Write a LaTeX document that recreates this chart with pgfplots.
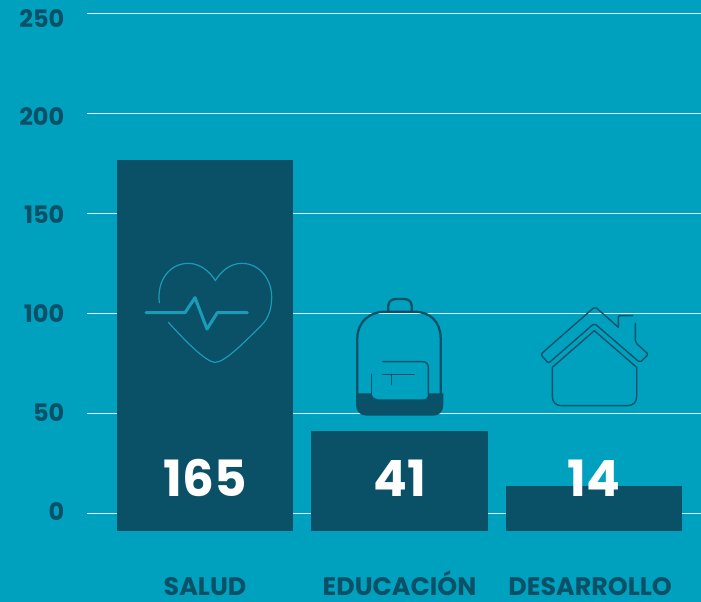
\documentclass[border=0pt]{standalone}
\usepackage{fontspec}
\setmainfont{Poppins}
\usepackage{pgfplots}
\pgfplotsset{compat=1.18}
\definecolor{bg}{HTML}{00A1BF}
\definecolor{barc}{HTML}{0A5066}
\definecolor{iconc}{HTML}{1A9CB9}
\newcommand{\yl}[2]{\raisebox{#1pt}[0pt][0pt]{#2}}
\begin{document}
\begin{tikzpicture}[x=.75pt,y=-.75pt]
\useasboundingbox (0,0) rectangle (701,602);
\fill[bg] (0,0) rectangle (701,602);
\begin{axis}[
  at={(65.25pt,-10.5pt)},anchor=north west,
  scale only axis,width=460.5pt,height=387.75pt,
  xmin=-0.607,xmax=2.550,ymin=-9,ymax=250,
  axis line style={draw=none},
  clip=false,
  xtick={0,1,1.98},
  xticklabels={SALUD,EDUCACIÓN,DESARROLLO},
  ytick={0,50,100,150,200,250},
  yticklabels={\yl{-5.3}{0},\yl{-5.9}{50},\yl{-6.5}{100},\yl{-7.1}{150},\yl{-8.4}{200},\yl{-9.8}{250}},
  major tick length=0pt,
  ymajorgrids,
  grid style={white!85!bg,line width=.75pt},
  every x tick label/.style={font=\bfseries\fontsize{19}{20}\selectfont,text=barc,anchor=base,yshift=-48.5pt,text depth=0pt,inner ysep=0pt},
  every y tick label/.style={font=\bfseries\fontsize{18}{20}\selectfont,text=barc,anchor=east,xshift=-13.5pt},
  ybar,bar width=131.5pt,bar shift=0pt,
]
\addplot[fill=barc,draw=barc,line width=0pt] coordinates {(0,176.4) (1,41) (2,13.5)};
\addplot[fill=barc,draw=barc,line width=0pt] coordinates {(0,-9) (1,-9) (2,-9)};
\node[text=white,font=\bfseries\fontsize{37.5}{38}\selectfont,anchor=center] at (axis cs:0,17.5) {165};
\node[text=white,font=\bfseries\fontsize{37.5}{38}\selectfont,anchor=center] at (axis cs:1,17.5) {41};
\node[text=white,font=\bfseries\fontsize{37.5}{38}\selectfont,anchor=center] at (axis cs:2,17.5) {14};
\end{axis}
% heart icon
\begin{scope}[shift={(110,230)},x=.25pt,y=-.25pt,line cap=round,line join=round]
\draw[iconc,line width=.9pt] (148,218) .. controls (140,150) and (180,100) .. (235,100)
  .. controls (270,100) and (300,125) .. (316,152)
  .. controls (332,125) and (360,100) .. (395,100)
  .. controls (450,100) and (487,150) .. (485,205)
  .. controls (484,240) and (475,265) .. (455,285)
  .. controls (410,330) and (345,397) .. (316,397)
  .. controls (285,397) and (215,320) .. (175,277);
\draw[iconc,line width=2.3pt] (108,248) -- (225,248) -- (255,203) -- (291,297) -- (322,248) -- (412,248);
\end{scope}
% backpack icon
\begin{scope}[shift={(340,285)},x=.25pt,y=-.25pt,line cap=round,line join=round]
\fill[barc] (48,325) -- (95,325) .. controls (95,335) and (103,343) .. (112,343) -- (250,343)
  .. controls (260,343) and (265,335) .. (265,325) -- (310,325) -- (310,360)
  .. controls (310,380) and (297,392) .. (280,392) -- (80,392)
  .. controls (62,392) and (48,380) .. (48,360) -- cycle;
\draw[barc,line width=1.7pt] (52,330) -- (52,160) .. controls (52,110) and (90,80) .. (135,80) -- (222,80)
  .. controls (270,80) and (302,110) .. (302,160) -- (302,330);
\draw[barc,line width=1.7pt] (145,78) -- (145,62) .. controls (145,50) and (155,42) .. (168,42) -- (192,42)
  .. controls (205,42) and (215,50) .. (215,62) -- (215,78);
\draw[barc,line width=1.1pt] (95,268) -- (95,330);
\draw[barc,line width=1.1pt] (128,230) -- (248,230) .. controls (258,230) and (265,237) .. (265,247) -- (265,330);
\draw[barc,line width=1.1pt] (128,268) -- (222,268);
\draw[barc,line width=1.1pt] (155,268) -- (155,298);
\end{scope}
% house icon
\begin{scope}[shift={(530,295)},x=.25pt,y=-.25pt,line cap=round,line join=round]
\draw[barc,line width=1pt,rounded corners=.8pt] (265,97) -- (265,62) -- (308,62);
\draw[barc,line width=1pt,rounded corners=1.5pt] (265,97) -- (195,35) -- (32,178) -- (55,205) -- (193,85) -- (330,203) -- (355,178) -- (316,142) -- (316,85);
\draw[barc,line width=1pt] (193,107) -- (67,217) -- (67,305) .. controls (67,322) and (78,332) .. (95,332) -- (292,332) .. controls (309,332) and (320,322) .. (320,305) -- (320,217) -- cycle;
\end{scope}
\end{tikzpicture}
\end{document}
